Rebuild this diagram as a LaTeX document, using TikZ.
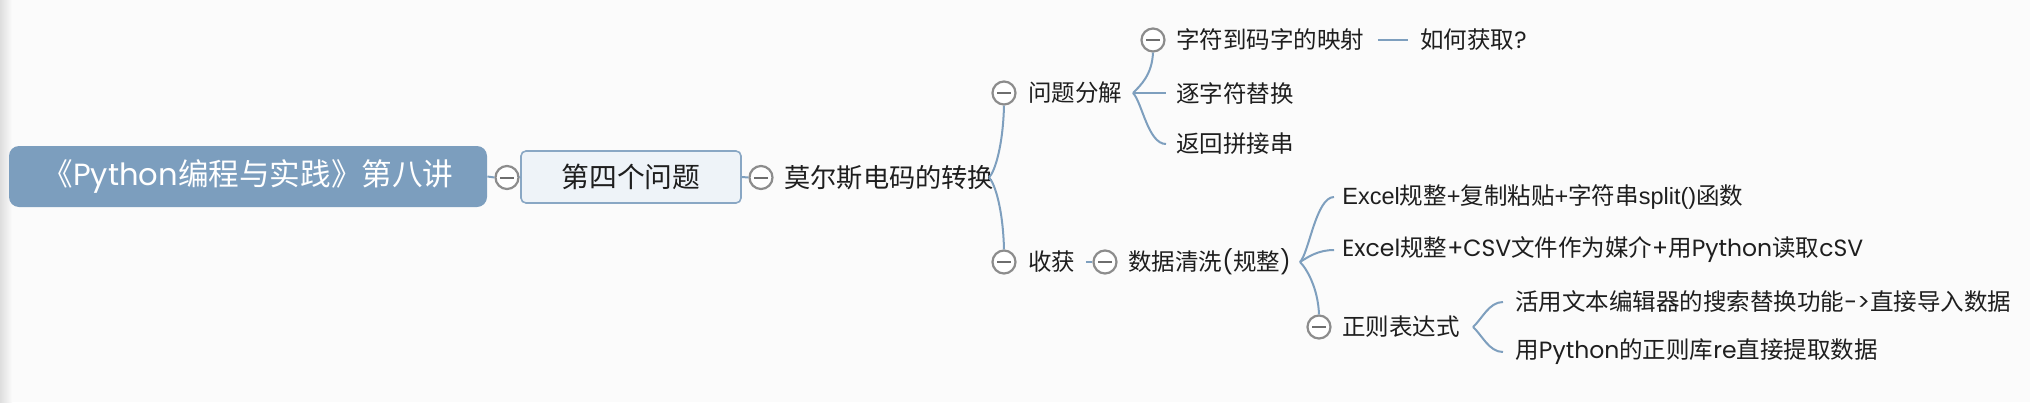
\documentclass[tikz,border=0pt]{standalone}
\usepackage{fontspec}
\newfontfamily\cjk{Noto Sans CJK SC}
\newfontfamily\lat{Poppins}
\newfontfamily\latn{Liberation Sans}
\usetikzlibrary{calc}
\definecolor{bgc}{HTML}{FBFBFB}
\definecolor{lineblue}{HTML}{7E9FBE}
\definecolor{rootfill}{HTML}{7C9EBE}
\definecolor{boxfill}{HTML}{EEF3F8}
\definecolor{boxline}{HTML}{89A7C4}
\definecolor{foldgray}{HTML}{8C8C8C}
\definecolor{minusgray}{HTML}{6E6E6E}
\definecolor{txt}{HTML}{1E1E1E}
\tikzset{
  conn/.style={draw=lineblue, line width=1pt},
  fold/.style={circle, draw=foldgray, line width=1.1pt, fill=white,
    minimum size=11.5pt, inner sep=0pt,
    path picture={\draw[minusgray, line width=1pt]
      ([xshift=-3.3pt]path picture bounding box.center) --
      ([xshift=3.3pt]path picture bounding box.center);}},
  rootbox/.style={rectangle, rounded corners=5pt, fill=rootfill,
    minimum width=239pt, minimum height=30.5pt, inner sep=0pt,
    text=white, font=\cjk\fontsize{15.3}{18}\selectfont},
  topicbox/.style={rectangle, rounded corners=2.5pt, fill=boxfill,
    draw=boxline, line width=0.8pt, minimum width=110pt,
    minimum height=26pt, inner sep=0pt, text=txt,
    font=\cjk\fontsize{13.9}{16}\selectfont},
  lvltwo/.style={anchor=west, inner sep=0pt, text=txt,
    font=\cjk\fontsize{13.1}{16}\selectfont},
  lbl/.style={anchor=west, inner sep=0pt, text=txt,
    font=\cjk\fontsize{11.75}{14}\selectfont},
}
\begin{document}
\begin{tikzpicture}[x=0.5pt,y=-0.5pt]
\useasboundingbox (0,0) rectangle (2030,402);
\fill[bgc] (0,0) rectangle (2030,402);
\shade[left color=black!13, right color=bgc] (0,0) rectangle (12,402);

% nodes
\node[rootbox] (root) at (248,176.5) {《{\lat Python}编程与实践》第八讲};
\node[fold] (c1) at (507,177.5) {};
\node[topicbox] (topic) at (631,177) {第四个问题};
\node[fold] (c2) at (761,177.5) {};
\node[lvltwo] (morse) at (784,177.5) {莫尔斯电码的转换};
\coordinate (k1) at (989,177.5);

\node[fold] (cq) at (1004,93) {};
\node[lbl] (tq) at (1028,93) {问题分解};
\coordinate (k2) at (1133,93);
\node[fold] (cmap) at (1153,40) {};
\node[lbl] (tmap) at (1176,40) {字符到码字的映射};
\node[lbl] (thow) at (1420,40) {如何获取{\lat ?}};
\node[lbl] (trep) at (1176,93) {逐字符替换};
\node[lbl] (tret) at (1176,144) {返回拼接串};

\node[fold] (cg) at (1004,262) {};
\node[lbl] (tg) at (1028,262) {收获};
\node[fold] (cc) at (1105,262) {};
\node[lbl] (tc) at (1128,262) {数据清洗{\lat (}规整{\lat )}};
\coordinate (k3) at (1300,262);
\node[lbl] (tex1) at (1342,197) {{\latn Excel}规整{\latn +}复制粘贴{\latn +}字符串{\latn split()}函数};
\node[lbl] (tex2) at (1342,250) {{\lat Excel}规整{\lat +CSV}文件作为媒介{\lat +}用{\lat Python}读取{\lat cSV}};
\node[fold] (cre) at (1319,327) {};
\node[lbl] (tre) at (1342,327) {正则表达式};
\coordinate (k4) at (1473,327);
\node[lbl] (ta) at (1515,302) {活用文本编辑器的搜索替换功能{\lat ->}直接导入数据};
\node[lbl] (tb) at (1515,352) {用{\lat Python}的正则库{\lat re}直接提取数据};

% free ends
\coordinate (erep) at ($(trep.west)+(-10,0)$);
\coordinate (eret) at ($(tret.west)+(-10,0)$);
\coordinate (eex1) at ($(tex1.west)+(-8,0)$);
\coordinate (eex2) at ($(tex2.west)+(-8,0)$);
\coordinate (ea) at ($(ta.west)+(-12,0)$);
\coordinate (eb) at ($(tb.west)+(-12,0)$);
\coordinate (hs) at ($(tmap.east)+(13,0)$);
\coordinate (he) at ($(thow.west)+(-12,0)$);
\coordinate (gs) at ($(tg.east)+(10,0)$);

% connectors
\draw[conn] (root.east) -- (c1.west);
\draw[conn] (c1.east) -- (topic.west);
\draw[conn] (topic.east) -- (c2.west);

\draw[conn] (k1) .. controls +(6,-6) and +(-1,40) .. (cq.south);
\draw[conn] (k1) .. controls +(6,6) and +(-1,-40) .. (cg.north);

\draw[conn] (k2) .. controls +(8,-8) and +(-1,22) .. (cmap.south);
\draw[conn] (k2) -- (erep);
\draw[conn] (k2) .. controls +(9,9) and +(-18,0) .. (eret);
\draw[conn] (hs) -- (he);

\draw[conn] (gs) -- (cc.west);
\draw[conn] (k3) .. controls +(9,-9) and +(-18,0) .. (eex1);
\draw[conn] (k3) .. controls +(8,-5) and +(-16,0) .. (eex2);
\draw[conn] (k3) .. controls +(7,7) and +(-1,-26) .. (cre.north);

\draw[conn] (k4) .. controls +(9,-8) and +(-14,0) .. (ea);
\draw[conn] (k4) .. controls +(9,8) and +(-14,0) .. (eb);
\end{tikzpicture}
\end{document}
